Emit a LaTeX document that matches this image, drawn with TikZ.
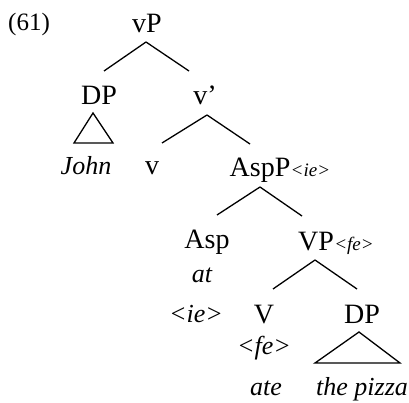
\documentclass[tikz,border=0pt]{standalone}
\usepackage{fontspec}
\setmainfont{Liberation Serif}
\begin{document}
\begin{tikzpicture}[x=1pt,y=1pt,
  lab/.style={anchor=base,inner sep=0pt,font=\fontsize{28}{30}\selectfont},
  word/.style={anchor=base,inner sep=0pt,font=\fontsize{26}{28}\selectfont\itshape},
  feat/.style={anchor=base west,inner sep=0pt,font=\fontsize{19}{21}\selectfont\itshape},
  branch/.style={line width=1.3pt},
  tri/.style={line width=1.3pt,line join=miter}]
\useasboundingbox (0,0) rectangle (409,-403);
\node[anchor=base west,inner sep=0pt,font=\fontsize{25}{27}\selectfont] (ex) at (8,-31) {(61)};
\node[lab] (vP) at (147,-33) {vP};
\node[lab] (DP) at (99,-105) {DP};
\node[lab] (vbar) at (205,-105) {v’};
\node[word] (John) at (86,-175) {John};
\node[lab] (v) at (152,-175) {v};
\node[lab] (AspP) at (260,-177) {AspP};
\node[feat] (ieA) at (AspP.base east) {<ie>};
\node[lab] (Asp) at (207,-248) {Asp};
\node[word] (at) at (202,-282) {at};
\node[word] (ie) at (196,-322) {<ie>};
\node[lab] (VP) at (316,-250) {VP};
\node[feat] (feV) at (VP.base east) {<fe>};
\node[lab] (V) at (264,-323) {V};
\node[word] (fe) at (264,-354) {<fe>};
\node[word] (ate) at (266,-395) {ate};
\node[lab] (DPb) at (362,-323) {DP};
\node[word] (pizza) at (362,-395) {the pizza};
% branches
\draw[branch] ([shift={(-1,-9)}]vP.base) -- ([shift={(5,34)}]DP.base);
\draw[branch] ([shift={(-1,-9)}]vP.base) -- ([shift={(-16,34)}]vbar.base);
\draw[branch] ([shift={(2,-10)}]vbar.base) -- ([shift={(10,32)}]v.base);
\draw[branch] ([shift={(2,-10)}]vbar.base) -- ([shift={(-10,33)}]AspP.base);
\draw[branch] ([shift={(0,-10)}]AspP.base) -- ([shift={(10,33)}]Asp.base);
\draw[branch] ([shift={(0,-10)}]AspP.base) -- ([shift={(-14,34)}]VP.base);
\draw[branch] ([shift={(-1,-10)}]VP.base) -- ([shift={(9,34)}]V.base);
\draw[branch] ([shift={(-1,-10)}]VP.base) -- ([shift={(-5,34)}]DPb.base);
% triangles
\draw[tri] ([shift={(-6,-8)}]DP.base) -- ([shift={(-12,32)}]John.base) -- ([shift={(27,32)}]John.base) -- cycle;
\draw[tri] ([shift={(-3,-9)}]DPb.base) -- ([shift={(-47,32)}]pizza.base) -- ([shift={(38,32)}]pizza.base) -- cycle;
\end{tikzpicture}
\end{document}
